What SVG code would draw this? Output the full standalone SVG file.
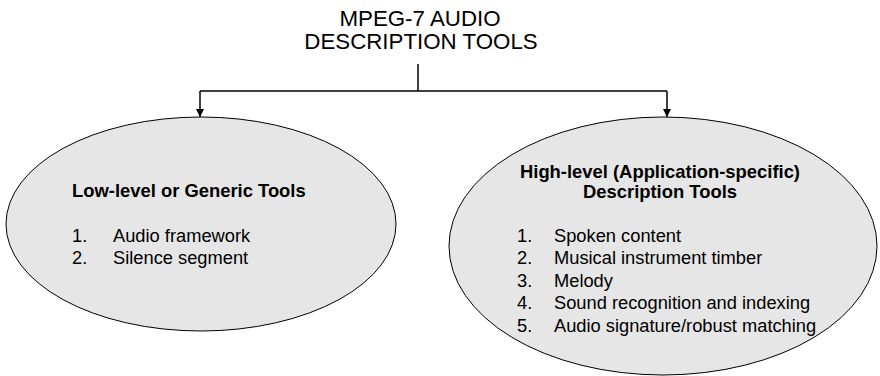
<svg xmlns="http://www.w3.org/2000/svg" width="880" height="376" viewBox="0 0 880 376">
<style>
text{font-family:"Liberation Sans",Arial,sans-serif;fill:#000}
.t{font-size:22.3px}
.h{font-size:18.4px;font-weight:bold}
.l{font-size:18.3px}
.e{fill:#e6e6e6;stroke:#000;stroke-width:1}
.c{fill:none;stroke:#000;stroke-width:1.5}
</style>
<defs>
<marker id="ah" markerWidth="8" markerHeight="8" refX="8" refY="4" orient="auto" markerUnits="userSpaceOnUse">
<path d="M0,0 L8,4 L0,8 Z" fill="#000"/>
</marker>
</defs>
<rect width="880" height="376" fill="#fff"/>
<g id="title">
<text class="t" x="420" y="26" text-anchor="middle">MPEG-7 AUDIO</text>
<text class="t" x="421" y="49" text-anchor="middle">DESCRIPTION TOOLS</text>
</g>
<g id="connectors">
<path class="c" d="M418,64 V91"/>
<path class="c" d="M200,91 H667"/>
<path class="c" d="M200,91 V117" marker-end="url(#ah)"/>
<path class="c" d="M667,91 V117" marker-end="url(#ah)"/>
</g>
<g id="low">
<ellipse class="e" cx="201" cy="224" rx="195" ry="107"/>
<text class="h" x="72" y="197">Low-level or Generic Tools</text>
<text class="l" x="72" y="242">1.</text><text class="l" x="113" y="242">Audio framework</text>
<text class="l" x="72" y="264">2.</text><text class="l" x="113" y="264">Silence segment</text>
</g>
<g id="high">
<ellipse class="e" cx="663" cy="246" rx="214" ry="129"/>
<text class="h" x="660" y="178" text-anchor="middle">High-level (Application-specific)</text>
<text class="h" x="660" y="198" text-anchor="middle">Description Tools</text>
<text class="l" x="517" y="242">1.</text><text class="l" x="554" y="242">Spoken content</text>
<text class="l" x="517" y="264">2.</text><text class="l" x="554" y="264">Musical instrument timber</text>
<text class="l" x="517" y="287">3.</text><text class="l" x="554" y="287">Melody</text>
<text class="l" x="517" y="309">4.</text><text class="l" x="554" y="309">Sound recognition and indexing</text>
<text class="l" x="517" y="332">5.</text><text class="l" x="554" y="332">Audio signature/robust matching</text>
</g>
</svg>
